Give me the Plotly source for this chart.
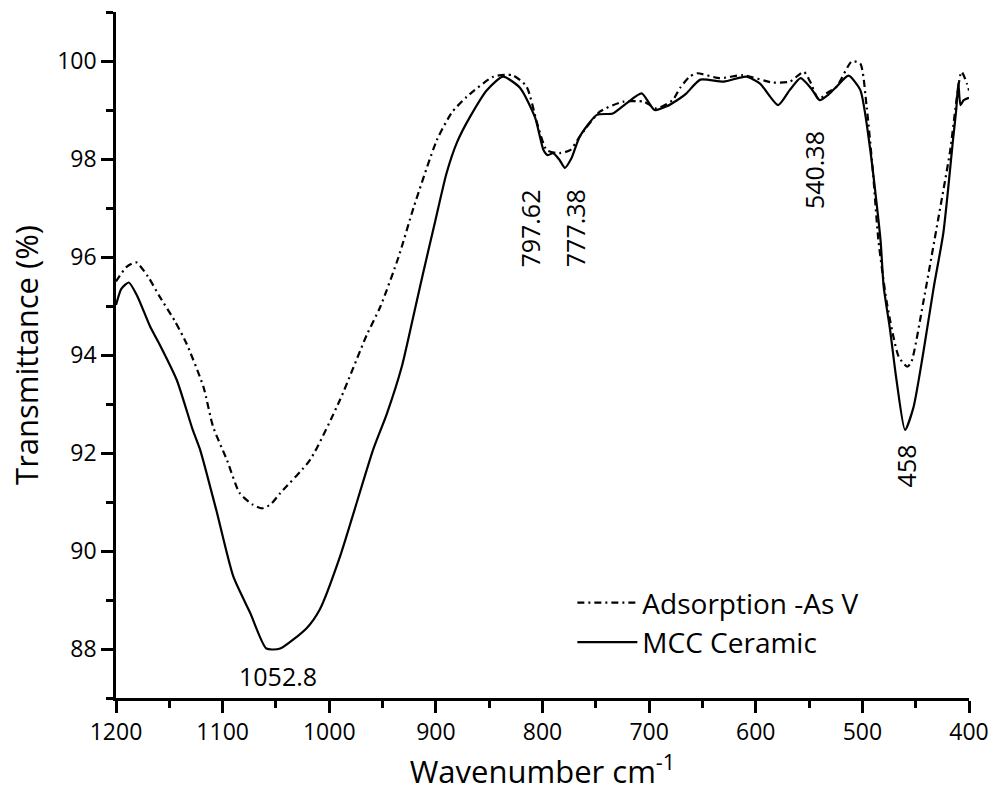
import plotly.graph_objects as go

# ---- data ----
mcc_x = [1200, 1195, 1188, 1180, 1168, 1158, 1143, 1128, 1121, 1106, 1090, 1074, 1059, 1046,
         1021, 1009, 990, 959, 946, 932, 920, 912, 902, 890, 880, 868, 852, 837, 821, 807,
         799, 795, 790, 784, 779, 773, 765, 749, 734, 721, 707, 695, 684, 671, 665, 652,
         630, 609, 596, 579, 568, 558, 548, 540, 532, 524, 513, 502, 493, 483, 480, 474,
         468, 460, 452, 443, 433, 424, 415, 412, 410, 408, 405, 400]
mcc_y = [95.02, 95.35, 95.48, 95.2, 94.58, 94.17, 93.49, 92.47, 92.06, 90.84, 89.48, 88.73, 88.01, 88.01,
         88.43, 88.80, 89.88, 92.06, 92.8, 93.76, 94.9, 95.67, 96.6, 97.71, 98.35, 98.86, 99.41, 99.68, 99.45, 98.85,
         98.18, 98.08, 98.12, 97.98, 97.82, 98.01, 98.46, 98.9, 98.93, 99.14, 99.34, 99.0, 99.07, 99.24, 99.34, 99.62,
         99.58, 99.68, 99.54, 99.1, 99.41, 99.65, 99.44, 99.2, 99.31, 99.48, 99.7, 99.41, 98.25, 96.35, 95.39, 94.51,
         93.49, 92.47, 92.94, 94.03, 95.39, 96.5, 98.39, 99.0, 99.55, 99.1, 99.2, 99.25]

ads_x = [1200, 1190, 1181, 1170, 1159, 1145, 1134, 1118, 1109, 1096, 1084, 1072, 1063, 1055,
         1046, 1018, 990, 965, 952, 935, 921, 899, 885, 871, 846, 828, 815, 805, 796, 784,
         774, 765, 746, 724, 705, 693, 678, 671, 662, 655, 634, 612, 584, 568, 555, 549,
         541, 533, 524, 510, 502, 496, 490, 485, 477, 466, 458, 454, 443, 429, 418, 407,
         402, 400]
ads_y = [95.5, 95.8, 95.89, 95.6, 95.19, 94.7, 94.24, 93.35, 92.54, 91.86, 91.18, 90.95, 90.87, 90.95,
         91.18, 91.86, 93.08, 94.4, 94.99, 96.0, 97.0, 98.39, 98.95, 99.27, 99.68, 99.71, 99.48, 98.73, 98.18, 98.12,
         98.18, 98.46, 98.97, 99.17, 99.17, 99.03, 99.2, 99.45, 99.68, 99.75, 99.65, 99.71, 99.56, 99.58, 99.78, 99.58,
         99.22, 99.35, 99.48, 99.99, 99.95, 99.07, 97.71, 96.35, 95.06, 93.97, 93.76, 93.86, 95.06, 96.76, 98.12, 99.78,
         99.54, 99.4]

peak_labels = ["1052.8", "797.62", "777.38", "540.38", "458"]
peak_x = [1052.8, 797.62, 777.38, 540.38, 458]
peak_label_y = [87.45, 96.58, 96.58, 97.78, 91.73]

x_tick_vals = [1200, 1100, 1000, 900, 800, 700, 600, 500, 400]
y_tick_vals = [88, 90, 92, 94, 96, 98, 100]

FONT = "Open Sans"

fig = go.Figure()
fig.add_trace(go.Scatter(
    x=ads_x, y=ads_y, mode="lines", name="Adsorption -As V",
    line=dict(color="black", width=2.2, dash="7px,4px,2px,4px", shape="spline", smoothing=0.6),
))
fig.add_trace(go.Scatter(
    x=mcc_x, y=mcc_y, mode="lines", name="MCC Ceramic",
    line=dict(color="black", width=2.2, shape="spline", smoothing=0.6),
))

shifts = [5, -15, 8, -6, -1]
for t, px, py, sx in zip(peak_labels, peak_x, peak_label_y, shifts):
    fig.add_annotation(
        x=px, y=py, text=t, showarrow=False, xshift=sx,
        textangle=0 if t == "1052.8" else -90,
        font=dict(family=FONT, size=25, color="black"),
        xanchor="center", yanchor="middle",
    )

fig.update_layout(
    width=993, height=804,
    margin=dict(l=116, r=24, t=12, b=106, autoexpand=False),
    paper_bgcolor="white", plot_bgcolor="white",
    font=dict(family=FONT, color="black"),
    showlegend=True,
    legend=dict(
        x=0.535, y=0.175, xanchor="left", yanchor="top",
        font=dict(family=FONT, size=28, color="black"),
        bgcolor="rgba(0,0,0,0)", itemwidth=60, tracegroupgap=0,
    ),
    xaxis=dict(
        range=[1200, 400], autorange=False, automargin=False,
        tickmode="array", tickvals=x_tick_vals, ticktext=[str(v) for v in x_tick_vals],
        ticks="outside", ticklen=12, tickwidth=2.5, tickcolor="black",
        showline=True, linewidth=2.5, linecolor="black", mirror=False,
        showgrid=False, zeroline=False, ticklabeloverflow="allow",
        minor=dict(ticks="outside", ticklen=7, tickwidth=2.5, tickcolor="black", dtick=50, showgrid=False),
        tickfont=dict(family=FONT, size=23, color="black"),
        title=dict(text="Wavenumber cm<sup>-1</sup>", font=dict(family=FONT, size=31, color="black"), standoff=14),
    ),
    yaxis=dict(
        range=[87, 101], autorange=False, automargin=False,
        tickmode="array", tickvals=y_tick_vals, ticktext=[str(v) for v in y_tick_vals],
        ticks="outside", ticklen=12, tickwidth=2.5, tickcolor="black",
        showline=True, linewidth=2.5, linecolor="black", mirror=False,
        showgrid=False, zeroline=False,
        minor=dict(ticks="outside", ticklen=7, tickwidth=2.5, tickcolor="black", dtick=1, showgrid=False),
        tickfont=dict(family=FONT, size=23, color="black"),
        title=dict(text="Transmittance (%)", font=dict(family=FONT, size=31, color="black"), standoff=10),
    ),
)

fig.write_html("out.html", config={"displayModeBar": False},
               post_script="document.body.style.margin='0';")
